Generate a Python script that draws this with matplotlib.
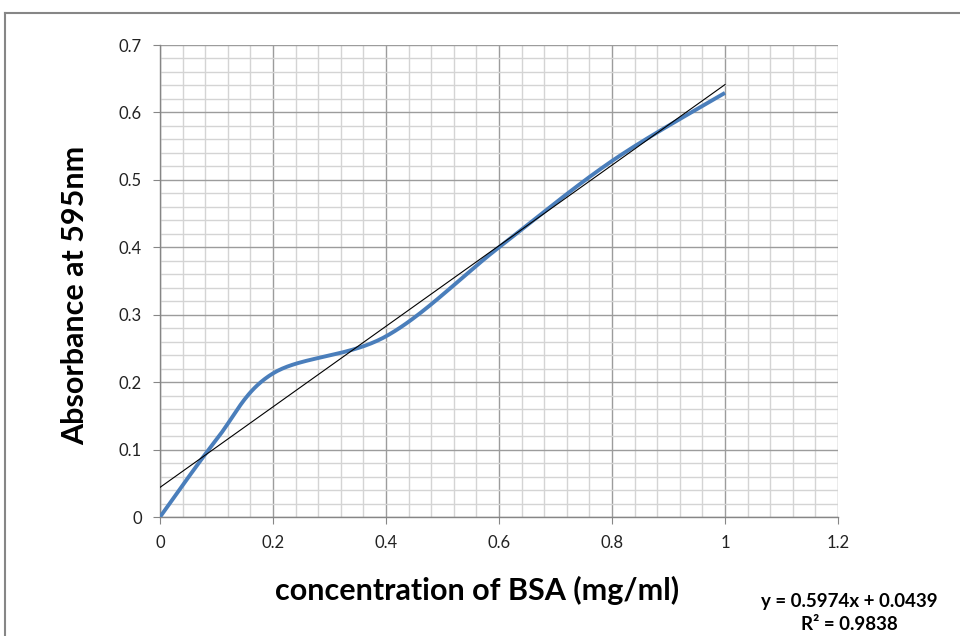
import numpy as np
import matplotlib
matplotlib.use('Agg')
import matplotlib.pyplot as plt
from matplotlib.lines import Line2D

plt.rcParams['font.family'] = ['Lato', 'DejaVu Sans']

# standarto kreives duomenys (BSA)
konc = [0, 0.1, 0.2, 0.4, 0.6, 0.8, 1.0]
absorb = [0, 0.115, 0.213, 0.268, 0.400, 0.528, 0.629]

# tiesine trendline is Excel
slope = 0.5974
intercept = 0.0439
r2 = 0.9838

x_ticks = [0, 0.2, 0.4, 0.6, 0.8, 1, 1.2]
x_tick_labels = ['0', '0.2', '0.4', '0.6', '0.8', '1', '1.2']
y_ticks = [0, 0.1, 0.2, 0.3, 0.4, 0.5, 0.6, 0.7]
y_tick_labels = ['0', '0.1', '0.2', '0.3', '0.4', '0.5', '0.6', '0.7']


def smooth(xs, ys, n=40):
    # Excel stiliaus "smoothed line" - bezier su catmull-rom kontroliniais taskais
    P = np.column_stack([xs, ys]).astype(float)
    P_ext = np.vstack([P[0], P, P[-1]])
    out = []
    for i in range(len(P) - 1):
        p0, p1, p2, p3 = P_ext[i], P_ext[i + 1], P_ext[i + 2], P_ext[i + 3]
        c1 = p1 + (p2 - p0) / 6
        c2 = p2 - (p3 - p1) / 6
        t = np.linspace(0, 1, n)[:, None]
        seg = ((1 - t) ** 3) * p1 + 3 * ((1 - t) ** 2) * t * c1 + 3 * (1 - t) * t ** 2 * c2 + t ** 3 * p2
        out.append(seg if i == 0 else seg[1:])
    out = np.vstack(out)
    return out[:, 0], out[:, 1]


fig = plt.figure(figsize=(9.6, 6.36), dpi=100)
ax = fig.add_axes([160 / 960, 1 - 517 / 636, 678 / 960, 472 / 636])

ax.set_xlim(0, 1.2)
ax.set_ylim(0, 0.7)
ax.set_xticks(x_ticks)
ax.set_xticklabels(x_tick_labels)
ax.set_yticks(y_ticks)
ax.set_yticklabels(y_tick_labels)
ax.set_xticks(np.arange(0, 1.2001, 0.04), minor=True)
ax.set_yticks(np.arange(0, 0.7001, 0.02), minor=True)

ax.grid(which='minor', color='#d4d4d4', linewidth=1.0)
ax.grid(which='major', color='#9c9c9c', linewidth=1.0)
ax.set_axisbelow(True)

for s in ['top', 'right']:
    ax.spines[s].set_visible(False)
for s in ['left', 'bottom']:
    ax.spines[s].set_color('#868686')
    ax.spines[s].set_linewidth(1.0)

ax.tick_params(which='major', direction='out', length=5, color='#868686',
               labelsize=12, labelcolor='#222222', pad=8)
ax.tick_params(which='minor', length=0)

sx, sy = smooth(konc, absorb)
ax.plot(sx, sy, color='#4a7ebb', linewidth=2.8, solid_capstyle='butt', zorder=3)

tx = np.array([0, 1.0])
ax.plot(tx, slope * tx + intercept, color='#000000', linewidth=0.8, zorder=4)

# asiu pavadinimai - Excel juos deda ne visai per centra
fig.text(477 / 960, 1 - 590 / 636, 'concentration of BSA (mg/ml)', ha='center', va='center',
         fontsize=22, fontweight='bold')
fig.text(75 / 960, 1 - 295 / 636, 'Absorbance at 595nm', ha='center', va='center',
         rotation=90, fontsize=22, fontweight='bold')

fig.text(849 / 960, 1 - 601 / 636, f'y = {slope:.4f}x + {intercept:.4f}', ha='center', va='center',
         fontsize=13.5, fontweight='bold')
fig.text(849 / 960, 1 - 625 / 636, f'R² = {r2:.4f}', ha='center', va='center',
         fontsize=13.5, fontweight='bold')

# diagramos remelis (Excel chart area)
fig.add_artist(Line2D([5 / 960, 1], [1 - 13 / 636, 1 - 13 / 636], transform=fig.transFigure,
                      color='#868686', linewidth=1.5))
fig.add_artist(Line2D([5 / 960, 5 / 960], [0, 1 - 13 / 636], transform=fig.transFigure,
                      color='#868686', linewidth=1.5))

fig.savefig('out.png', dpi=100)
